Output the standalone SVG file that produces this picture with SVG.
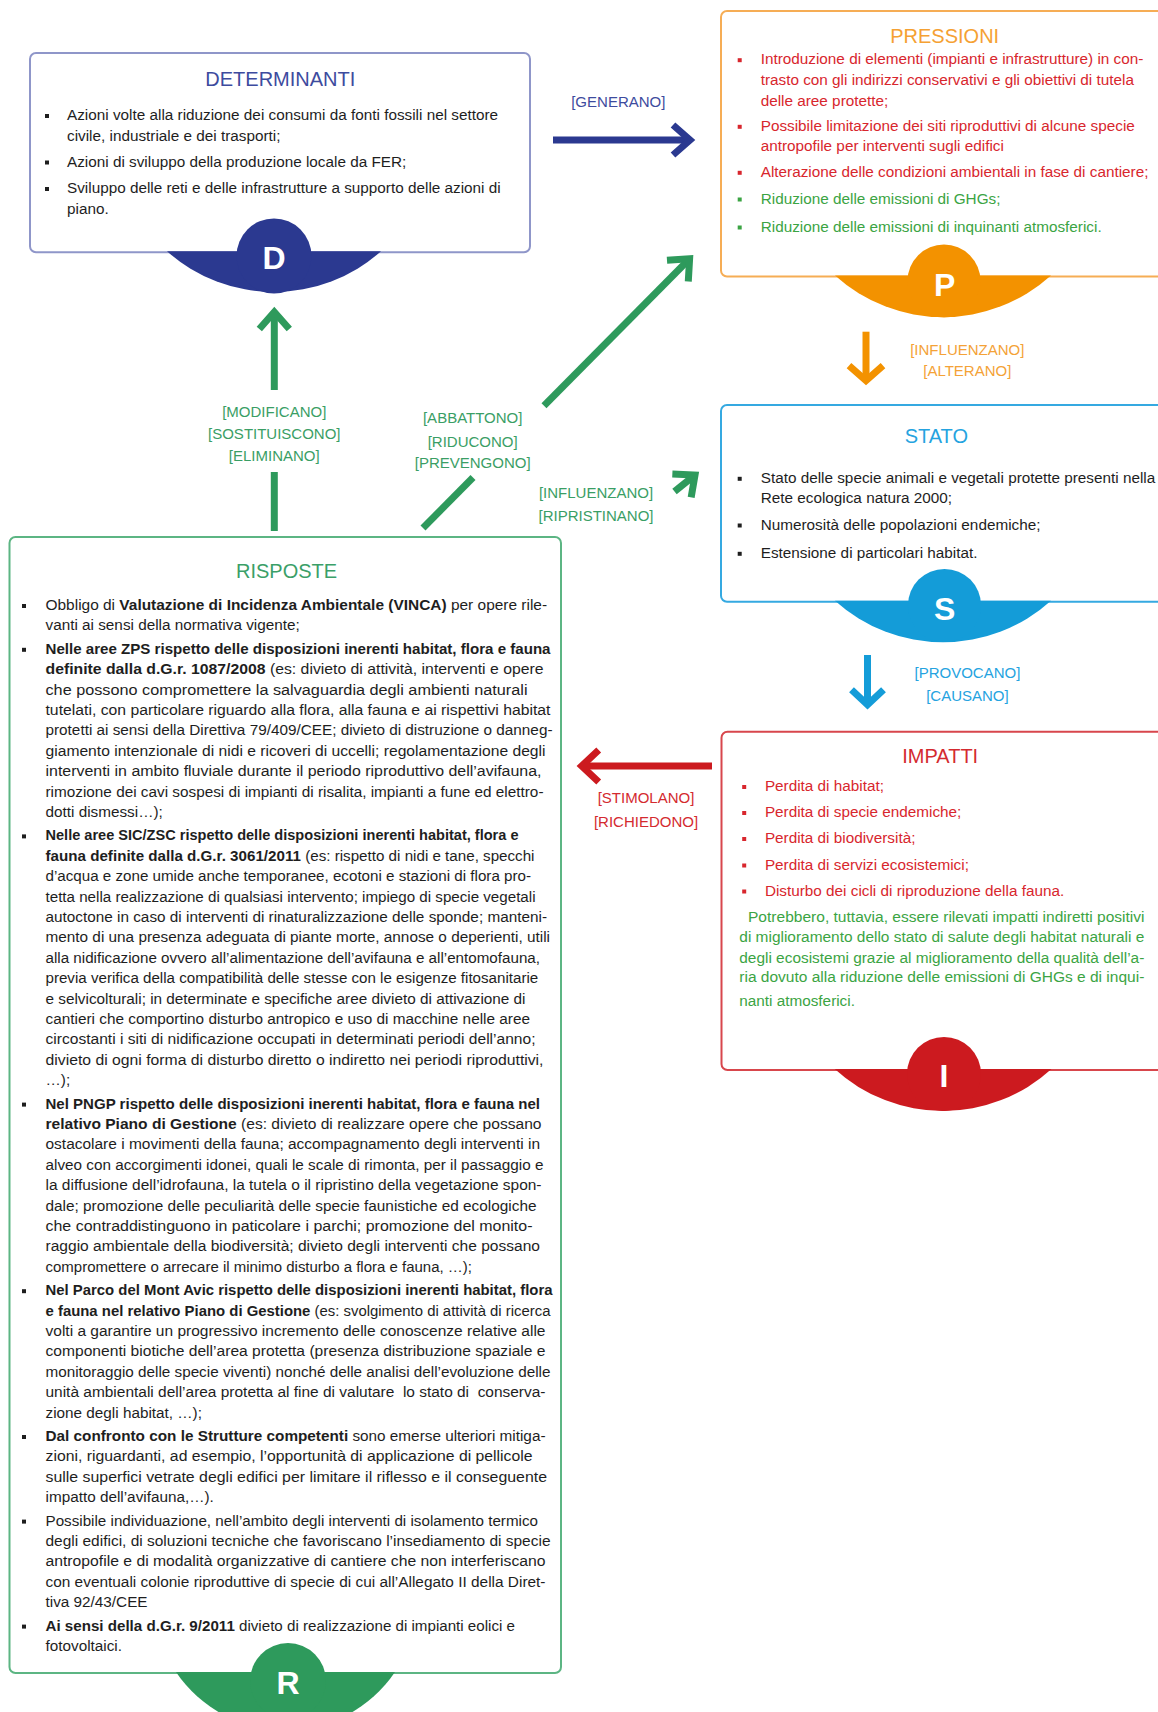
<svg xmlns="http://www.w3.org/2000/svg" width="1158" height="1712" viewBox="0 0 1158 1712">
<style>
text{font-family:"Liberation Sans",Arial,Helvetica,sans-serif}
.t{font-size:15.3px;fill:#1e1e1e}
.b{font-weight:bold}
.red{fill:#d8262d}
.grn{fill:#3ba443}
.ttl{font-size:20px;text-anchor:middle}
.lbl{font-size:15px;text-anchor:middle}
.let{font-size:32px;font-weight:bold;fill:#fff;text-anchor:middle}
.box{fill:#fff;stroke-width:2}
.ar{fill:none;stroke-width:7}
.bk{fill:#1e1e1e}
</style>
<defs>
<marker id="ah-navy" markerUnits="userSpaceOnUse" viewBox="-25 -20 30 40" markerWidth="30" markerHeight="40" refX="0" refY="0" orient="auto" overflow="visible"><path d="M-17,-15 L0,0 L-17,15" fill="none" stroke="#2b3990" stroke-width="7"/></marker>
<marker id="ah-green" markerUnits="userSpaceOnUse" viewBox="-25 -20 30 40" markerWidth="30" markerHeight="40" refX="0" refY="0" orient="auto" overflow="visible"><path d="M-17,-15 L0,0 L-17,15" fill="none" stroke="#2e9a5c" stroke-width="7"/></marker>
<marker id="ah-orange" markerUnits="userSpaceOnUse" viewBox="-25 -20 30 40" markerWidth="30" markerHeight="40" refX="0" refY="0" orient="auto" overflow="visible"><path d="M-15,-17 L0,0 L-15,17" fill="none" stroke="#f39200" stroke-width="7"/></marker>
<marker id="ah-blue" markerUnits="userSpaceOnUse" viewBox="-25 -20 30 40" markerWidth="30" markerHeight="40" refX="0" refY="0" orient="auto" overflow="visible"><path d="M-15,-16 L0,0 L-15,16" fill="none" stroke="#149cd8" stroke-width="7"/></marker>
<marker id="ah-red" markerUnits="userSpaceOnUse" viewBox="-25 -20 30 40" markerWidth="30" markerHeight="40" refX="0" refY="0" orient="auto" overflow="visible"><path d="M-17,-16 L0,0 L-17,16" fill="none" stroke="#cc1a1f" stroke-width="7"/></marker>
</defs>
<rect width="1158" height="1712" fill="#fff"/>

<g id="connectors">
  <path class="ar" stroke="#2b3990" d="M553,140 H690" marker-end="url(#ah-navy)"/>
  <text class="lbl" x="618.3" y="107" fill="#3d4b9e">[GENERANO]</text>

  <path class="ar" stroke="#f39200" d="M866,331.7 V380.7" marker-end="url(#ah-orange)"/>
  <text class="lbl" x="967.3" y="354.5" fill="#f4a237">[INFLUENZANO]</text>
  <text class="lbl" x="967.3" y="375.5" fill="#f4a237">[ALTERANO]</text>

  <path class="ar" stroke="#149cd8" d="M867.5,655 V704.7" marker-end="url(#ah-blue)"/>
  <text class="lbl" x="967.4" y="678.3" fill="#25a3df">[PROVOCANO]</text>
  <text class="lbl" x="967.4" y="701" fill="#25a3df">[CAUSANO]</text>

  <path class="ar" stroke="#cc1a1f" d="M712,766 H581.7" marker-end="url(#ah-red)"/>
  <text class="lbl" x="646" y="803" fill="#d42a2f">[STIMOLANO]</text>
  <text class="lbl" x="646" y="826.7" fill="#d42a2f">[RICHIEDONO]</text>

  <path class="ar" stroke="#2e9a5c" d="M274.3,531 V472"/>
  <path class="ar" stroke="#2e9a5c" d="M274.3,390 V312" marker-end="url(#ah-green)"/>
  <text class="lbl" x="274.3" y="416.7" fill="#3a9e65">[MODIFICANO]</text>
  <text class="lbl" x="274.3" y="438.5" fill="#3a9e65">[SOSTITUISCONO]</text>
  <text class="lbl" x="274.3" y="461" fill="#3a9e65">[ELIMINANO]</text>

  <path class="ar" stroke="#2e9a5c" d="M423,528 L473,477.5"/>
  <path class="ar" stroke="#2e9a5c" d="M544,405.7 L689.6,258.8" marker-end="url(#ah-green)"/>
  <text class="lbl" x="472.7" y="423.3" fill="#3a9e65">[ABBATTONO]</text>
  <text class="lbl" x="472.7" y="446.5" fill="#3a9e65">[RIDUCONO]</text>
  <text class="lbl" x="472.7" y="468.3" fill="#3a9e65">[PREVENGONO]</text>

  <path class="ar" stroke="#2e9a5c" d="M674.5,491.5 L695,475" marker-end="url(#ah-green)"/>
  <text class="lbl" x="596" y="498.3" fill="#3a9e65">[INFLUENZANO]</text>
  <text class="lbl" x="596" y="521" fill="#3a9e65">[RIPRISTINANO]</text>
</g>

<g id="node-determinanti">
  <rect class="box" x="30" y="53" width="500" height="199.3" rx="6" stroke="#8f96c9"/>
  <text class="ttl" x="280.3" y="85.7" fill="#3d4b9e">DETERMINANTI</text>
  <rect class="bk" x="45" y="114" width="4" height="4"/>
  <text class="t" x="67" y="120">Azioni volte alla riduzione dei consumi da fonti fossili nel settore</text>
  <text class="t" x="67" y="140.7">civile, industriale e dei trasporti;</text>
  <rect class="bk" x="45" y="160.5" width="4" height="4"/>
  <text class="t" x="67" y="166.5">Azioni di sviluppo della produzione locale da FER;</text>
  <rect class="bk" x="45" y="187" width="4" height="4"/>
  <text class="t" x="67" y="193">Sviluppo delle reti e delle infrastrutture a supporto delle azioni di</text>
  <text class="t" x="67" y="214">piano.</text>
  <path d="M167,251.3 A161,161 0 0 0 381,251.3 Z" fill="#2b3990"/>
  <circle cx="274" cy="256" r="37.5" fill="#2b3990"/>
  <text class="let" x="274" y="269">D</text>
</g>

<g id="node-pressioni">
  <rect class="box" x="721" y="11" width="460" height="265.5" rx="6" stroke="#f6ad55"/>
  <text class="ttl" x="944.7" y="43" fill="#f5a133">PRESSIONI</text>
  <rect class="red" x="737.7" y="58.2" width="4" height="4"/>
  <text class="t red" x="760.7" y="64.2">Introduzione di elementi (impianti e infrastrutture) in con-</text>
  <text class="t red" x="760.7" y="85.2">trasto con gli indirizzi conservativi e gli obiettivi di tutela</text>
  <text class="t red" x="760.7" y="105.8">delle aree protette;</text>
  <rect class="red" x="737.7" y="124.8" width="4" height="4"/>
  <text class="t red" x="760.7" y="130.8">Possibile limitazione dei siti riproduttivi di alcune specie</text>
  <text class="t red" x="760.7" y="150.8">antropofile per interventi sugli edifici</text>
  <rect class="red" x="737.7" y="170.8" width="4" height="4"/>
  <text class="t red" x="760.7" y="176.8">Alterazione delle condizioni ambientali in fase di cantiere;</text>
  <rect class="grn" x="737.7" y="197.5" width="4" height="4"/>
  <text class="t grn" x="760.7" y="203.5">Riduzione delle emissioni di GHGs;</text>
  <rect class="grn" x="737.7" y="225.5" width="4" height="4"/>
  <text class="t grn" x="760.7" y="231.5">Riduzione delle emissioni di inquinanti atmosferici.</text>
  <path d="M835,275.5 A161,161 0 0 0 1051,275.5 Z" fill="#f39200"/>
  <circle cx="944" cy="281" r="36.5" fill="#f39200"/>
  <text class="let" x="944.7" y="296">P</text>
</g>

<g id="node-stato">
  <rect class="box" x="721" y="405" width="460" height="196.7" rx="6" stroke="#35a9e1"/>
  <text class="ttl" x="936.3" y="443" fill="#25a3df">STATO</text>
  <rect class="bk" x="737.7" y="476.8" width="4" height="4"/>
  <text class="t" x="760.7" y="482.8">Stato delle specie animali e vegetali protette presenti nella</text>
  <text class="t" x="760.7" y="502.8">Rete ecologica natura 2000;</text>
  <rect class="bk" x="737.7" y="523.5" width="4" height="4"/>
  <text class="t" x="760.7" y="529.5">Numerosità delle popolazioni endemiche;</text>
  <rect class="bk" x="737.7" y="551.8" width="4" height="4"/>
  <text class="t" x="760.7" y="557.8">Estensione di particolari habitat.</text>
  <path d="M835,600.7 A161,161 0 0 0 1051,600.7 Z" fill="#149cd8"/>
  <circle cx="944.5" cy="605.5" r="36.6" fill="#149cd8"/>
  <text class="let" x="944.7" y="620">S</text>
</g>

<g id="node-impatti">
  <rect class="box" x="721.5" y="731.7" width="460" height="338.3" rx="6" stroke="#d8464c"/>
  <text class="ttl" x="940.2" y="763.3" fill="#d42a2f">IMPATTI</text>
  <rect class="red" x="742.2" y="785" width="4" height="4"/>
  <text class="t red" x="764.9" y="791">Perdita di habitat;</text>
  <rect class="red" x="742.2" y="811" width="4" height="4"/>
  <text class="t red" x="764.9" y="817">Perdita di specie endemiche;</text>
  <rect class="red" x="742.2" y="837" width="4" height="4"/>
  <text class="t red" x="764.9" y="843">Perdita di biodiversità;</text>
  <rect class="red" x="742.2" y="863.5" width="4" height="4"/>
  <text class="t red" x="764.9" y="869.5">Perdita di servizi ecosistemici;</text>
  <rect class="red" x="742.2" y="889.5" width="4" height="4"/>
  <text class="t red" x="764.9" y="895.5">Disturbo dei cicli di riproduzione della fauna.</text>
  <text class="t grn" x="748" y="922" textLength="396.5" lengthAdjust="spacingAndGlyphs">Potrebbero, tuttavia, essere rilevati impatti indiretti positivi</text>
  <text class="t grn" x="739.3" y="942" textLength="405" lengthAdjust="spacingAndGlyphs">di miglioramento dello stato di salute degli habitat naturali e</text>
  <text class="t grn" x="739.3" y="963" textLength="405" lengthAdjust="spacingAndGlyphs">degli ecosistemi grazie al miglioramento della qualità dell’a-</text>
  <text class="t grn" x="739.3" y="982" textLength="405" lengthAdjust="spacingAndGlyphs">ria dovuto alla riduzione delle emissioni di GHGs e di inqui-</text>
  <text class="t grn" x="739.3" y="1006">nanti atmosferici.</text>
  <path d="M834.7,1069 A161,161 0 0 0 1051.5,1069 Z" fill="#cc1a1f"/>
  <circle cx="944" cy="1074" r="37" fill="#cc1a1f"/>
  <text class="let" x="944" y="1086.7">I</text>
</g>

<g id="node-risposte">
  <rect class="box" x="9.5" y="537" width="551.5" height="1136" rx="6" stroke="#5cb583"/>
  <text class="ttl" x="286.6" y="578.3" fill="#3b9f68">RISPOSTE</text>

  <rect class="bk" x="22" y="604" width="4" height="4"/>
  <text class="t" x="45.5" y="610" textLength="501.6" lengthAdjust="spacingAndGlyphs">Obbligo di <tspan class="b">Valutazione di Incidenza Ambientale (VINCA)</tspan> per opere rile-</text>
  <text class="t" x="45.5" y="630.4">vanti ai sensi della normativa vigente;</text>

  <rect class="bk" x="22" y="647.8" width="4" height="4"/>
  <text class="t b" x="45.5" y="653.8" textLength="505" lengthAdjust="spacingAndGlyphs">Nelle aree ZPS rispetto delle disposizioni inerenti habitat, flora e fauna</text>
  <text class="t" x="45.5" y="674.2" textLength="498" lengthAdjust="spacingAndGlyphs"><tspan class="b">definite dalla d.G.r. 1087/2008</tspan> (es: divieto di attività, interventi e opere</text>
  <text class="t" x="45.5" y="694.6" textLength="482" lengthAdjust="spacingAndGlyphs">che possono compromettere la salvaguardia degli ambienti naturali</text>
  <text class="t" x="45.5" y="715" textLength="505" lengthAdjust="spacingAndGlyphs">tutelati, con particolare riguardo alla flora, alla fauna e ai rispettivi habitat</text>
  <text class="t" x="45.5" y="735.4" textLength="507" lengthAdjust="spacingAndGlyphs">protetti ai sensi della Direttiva 79/409/CEE; divieto di distruzione o danneg-</text>
  <text class="t" x="45.5" y="755.8" textLength="500" lengthAdjust="spacingAndGlyphs">giamento intenzionale di nidi e ricoveri di uccelli; regolamentazione degli</text>
  <text class="t" x="45.5" y="776.2" textLength="496" lengthAdjust="spacingAndGlyphs">interventi in ambito fluviale durante il periodo riproduttivo dell’avifauna,</text>
  <text class="t" x="45.5" y="796.6" textLength="498" lengthAdjust="spacingAndGlyphs">rimozione dei cavi sospesi di impianti di risalita, impianti a fune ed elettro-</text>
  <text class="t" x="45.5" y="817">dotti dismessi…);</text>

  <rect class="bk" x="22" y="834.4" width="4" height="4"/>
  <text class="t b" x="45.5" y="840.4" textLength="473" lengthAdjust="spacingAndGlyphs">Nelle aree SIC/ZSC rispetto delle disposizioni inerenti habitat, flora e</text>
  <text class="t" x="45.5" y="860.8" textLength="489" lengthAdjust="spacingAndGlyphs"><tspan class="b">fauna definite dalla d.G.r. 3061/2011</tspan> (es: rispetto di nidi e tane, specchi</text>
  <text class="t" x="45.5" y="881.2" textLength="485.5" lengthAdjust="spacingAndGlyphs">d’acqua e zone umide anche temporanee, ecotoni e stazioni di flora pro-</text>
  <text class="t" x="45.5" y="901.6" textLength="490" lengthAdjust="spacingAndGlyphs">tetta nella realizzazione di qualsiasi intervento; impiego di specie vegetali</text>
  <text class="t" x="45.5" y="922" textLength="501.5" lengthAdjust="spacingAndGlyphs">autoctone in caso di interventi di rinaturalizzazione delle sponde; manteni-</text>
  <text class="t" x="45.5" y="942.4" textLength="504.5" lengthAdjust="spacingAndGlyphs">mento di una presenza adeguata di piante morte, annose o deperienti, utili</text>
  <text class="t" x="45.5" y="962.8" textLength="494.5" lengthAdjust="spacingAndGlyphs">alla nidificazione ovvero all’alimentazione dell’avifauna e all’entomofauna,</text>
  <text class="t" x="45.5" y="983.2" textLength="492.7" lengthAdjust="spacingAndGlyphs">previa verifica della compatibilità delle stesse con le esigenze fitosanitarie</text>
  <text class="t" x="45.5" y="1003.6" textLength="480" lengthAdjust="spacingAndGlyphs">e selvicolturali; in determinate e specifiche aree divieto di attivazione di</text>
  <text class="t" x="45.5" y="1024" textLength="484.5" lengthAdjust="spacingAndGlyphs">cantieri che comportino disturbo antropico e uso di macchine nelle aree</text>
  <text class="t" x="45.5" y="1044.4" textLength="490" lengthAdjust="spacingAndGlyphs">circostanti i siti di nidificazione occupati in determinati periodi dell’anno;</text>
  <text class="t" x="45.5" y="1064.8" textLength="498" lengthAdjust="spacingAndGlyphs">divieto di ogni forma di disturbo diretto o indiretto nei periodi riproduttivi,</text>
  <text class="t" x="45.5" y="1085.2">…);</text>

  <rect class="bk" x="22" y="1102.6" width="4" height="4"/>
  <text class="t b" x="45.5" y="1108.6" textLength="494.5" lengthAdjust="spacingAndGlyphs">Nel PNGP rispetto delle disposizioni inerenti habitat, flora e fauna nel</text>
  <text class="t" x="45.5" y="1129" textLength="496" lengthAdjust="spacingAndGlyphs"><tspan class="b">relativo Piano di Gestione</tspan> (es: divieto di realizzare opere che possano</text>
  <text class="t" x="45.5" y="1149.4" textLength="494.5" lengthAdjust="spacingAndGlyphs">ostacolare i movimenti della fauna; accompagnamento degli interventi in</text>
  <text class="t" x="45.5" y="1169.8" textLength="498" lengthAdjust="spacingAndGlyphs">alveo con accorgimenti idonei, quali le scale di rimonta, per il passaggio e</text>
  <text class="t" x="45.5" y="1190.2" textLength="496" lengthAdjust="spacingAndGlyphs">la diffusione dell’idrofauna, la tutela o il ripristino della vegetazione spon-</text>
  <text class="t" x="45.5" y="1210.6" textLength="491" lengthAdjust="spacingAndGlyphs">dale; promozione delle peculiarità delle specie faunistiche ed ecologiche</text>
  <text class="t" x="45.5" y="1231" textLength="487" lengthAdjust="spacingAndGlyphs">che contraddistinguono in paticolare i parchi; promozione del monito-</text>
  <text class="t" x="45.5" y="1251.4" textLength="494.5" lengthAdjust="spacingAndGlyphs">raggio ambientale della biodiversità; divieto degli interventi che possano</text>
  <text class="t" x="45.5" y="1271.8" textLength="426.5" lengthAdjust="spacingAndGlyphs">compromettere o arrecare il minimo disturbo a flora e fauna, …);</text>

  <rect class="bk" x="22" y="1289.2" width="4" height="4"/>
  <text class="t b" x="45.5" y="1295.2" textLength="507" lengthAdjust="spacingAndGlyphs">Nel Parco del Mont Avic rispetto delle disposizioni inerenti habitat, flora</text>
  <text class="t" x="45.5" y="1315.6" textLength="505" lengthAdjust="spacingAndGlyphs"><tspan class="b">e fauna nel relativo Piano di Gestione</tspan> (es: svolgimento di attività di ricerca</text>
  <text class="t" x="45.5" y="1336" textLength="500" lengthAdjust="spacingAndGlyphs">volti a garantire un progressivo incremento delle conoscenze relative alle</text>
  <text class="t" x="45.5" y="1356.4" textLength="500" lengthAdjust="spacingAndGlyphs">componenti biotiche dell’area protetta (presenza distribuzione spaziale e</text>
  <text class="t" x="45.5" y="1376.8" textLength="505" lengthAdjust="spacingAndGlyphs">monitoraggio delle specie viventi) nonché delle analisi dell’evoluzione delle</text>
  <text class="t" x="45.5" y="1397.2" textLength="500" lengthAdjust="spacingAndGlyphs" xml:space="preserve">unità ambientali dell’area protetta al fine di valutare  lo stato di  conserva-</text>
  <text class="t" x="45.5" y="1417.6">zione degli habitat, …);</text>

  <rect class="bk" x="22" y="1435" width="4" height="4"/>
  <text class="t" x="45.5" y="1441" textLength="500" lengthAdjust="spacingAndGlyphs"><tspan class="b">Dal confronto con le Strutture competenti</tspan> sono emerse ulteriori mitiga-</text>
  <text class="t" x="45.5" y="1461.4" textLength="487" lengthAdjust="spacingAndGlyphs">zioni, riguardanti, ad esempio, l’opportunità di applicazione di pellicole</text>
  <text class="t" x="45.5" y="1481.8" textLength="501.5" lengthAdjust="spacingAndGlyphs">sulle superfici vetrate degli edifici per limitare il riflesso e il conseguente</text>
  <text class="t" x="45.5" y="1502.2">impatto dell’avifauna,…).</text>

  <rect class="bk" x="22" y="1519.6" width="4" height="4"/>
  <text class="t" x="45.5" y="1525.6" textLength="492.5" lengthAdjust="spacingAndGlyphs">Possibile individuazione, nell’ambito degli interventi di isolamento termico</text>
  <text class="t" x="45.5" y="1546" textLength="505" lengthAdjust="spacingAndGlyphs">degli edifici, di soluzioni tecniche che favoriscano l’insediamento di specie</text>
  <text class="t" x="45.5" y="1566.4" textLength="500" lengthAdjust="spacingAndGlyphs">antropofile e di modalità organizzative di cantiere che non interferiscano</text>
  <text class="t" x="45.5" y="1586.8" textLength="500" lengthAdjust="spacingAndGlyphs">con eventuali colonie riproduttive di specie di cui all’Allegato II della Diret-</text>
  <text class="t" x="45.5" y="1607.2">tiva 92/43/CEE</text>

  <rect class="bk" x="22" y="1624.6" width="4" height="4"/>
  <text class="t" x="45.5" y="1630.6" textLength="469.5" lengthAdjust="spacingAndGlyphs"><tspan class="b">Ai sensi della d.G.r. 9/2011</tspan> divieto di realizzazione di impianti eolici e</text>
  <text class="t" x="45.5" y="1651">fotovoltaici.</text>

  <path d="M176,1672 A132,132 0 0 0 395,1672 Z" fill="#2e9a5c"/>
  <circle cx="288" cy="1681" r="38" fill="#2e9a5c"/>
  <text class="let" x="288" y="1694">R</text>
</g>
</svg>
